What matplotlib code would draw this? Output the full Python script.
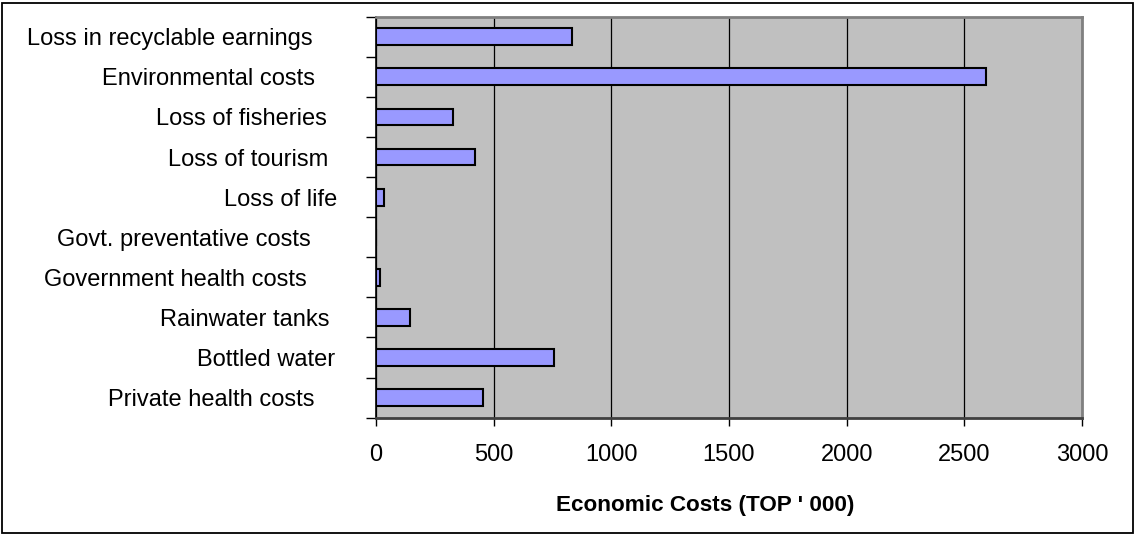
import matplotlib
matplotlib.use("Agg")
import matplotlib.pyplot as plt
import matplotlib.transforms as mtransforms
from matplotlib.patches import Rectangle

# ---- data (top to bottom as shown) ----
categories = [
    "Loss in recyclable earnings",
    "Environmental costs",
    "Loss of fisheries",
    "Loss of tourism",
    "Loss of life",
    "Govt. preventative costs",
    "Government health costs",
    "Rainwater tanks",
    "Bottled water",
    "Private health costs",
]
values = [833, 2590, 329, 422, 34, 0, 18, 146, 755, 453]
xticks = [0, 500, 1000, 1500, 2000, 2500, 3000]
xlabel = "Economic Costs (TOP ' 000)"

# label right-edge gaps from the axis (pixels), style only
label_gaps = [63, 61, 49, 48, 39, 65, 69, 46, 41, 61]

plt.rcParams['font.family'] = ['Liberation Sans', 'DejaVu Sans']

W, H = 1134, 534
FS = 17
fig = plt.figure(figsize=(W / 100, H / 100), dpi=100)
ax = fig.add_axes([376 / W, 1 - 417.7 / H, (1082 - 376) / W, (417.7 - 16.7) / H])

n = len(categories)
ypos = list(range(n))
ax.barh(ypos, values, height=0.42, color='#9999FF', edgecolor='black',
        linewidth=1.5, zorder=3)

ax.set_facecolor('#C0C0C0')
ax.set_xlim(0, 3000)
ax.set_ylim(n - 0.5, -0.5)
ax.set_xticks(xticks)
ax.set_xticklabels([str(t) for t in xticks], fontsize=FS)
ax.xaxis.grid(True, color='black', linewidth=0.9, zorder=1)
ax.set_axisbelow(True)

# y ticks at category boundaries
ax.set_yticks([i - 0.5 for i in range(n + 1)])
ax.set_yticklabels([])
ax.tick_params(axis='y', direction='out', length=7, width=1.0, color='black')
ax.tick_params(axis='x', direction='out', length=6, width=1.0, color='black', pad=13)

for i, (lab, gap) in enumerate(zip(categories, label_gaps)):
    trans = ax.get_yaxis_transform() + mtransforms.ScaledTranslation(-gap / 100, -0.025, fig.dpi_scale_trans)
    ax.text(0, i, lab, transform=trans, ha='right', va='center', fontsize=FS)

ax.set_xlabel(xlabel, fontsize=16.2, fontweight='bold')
ax.xaxis.set_label_coords(0.466, -0.192)

for s in ['top', 'right']:
    ax.spines[s].set_color('#808080')
    ax.spines[s].set_linewidth(2)
ax.spines['bottom'].set_color('#404040')
ax.spines['bottom'].set_linewidth(2)
ax.spines['left'].set_color('black')
ax.spines['left'].set_linewidth(1.2)

# outer figure border
fig.patches.append(Rectangle((1.5 / W, 1.5 / H), (W - 3) / W, (H - 4) / H,
                             transform=fig.transFigure, fill=False,
                             edgecolor='black', linewidth=1.3))

fig.savefig('out.png', dpi=100)
